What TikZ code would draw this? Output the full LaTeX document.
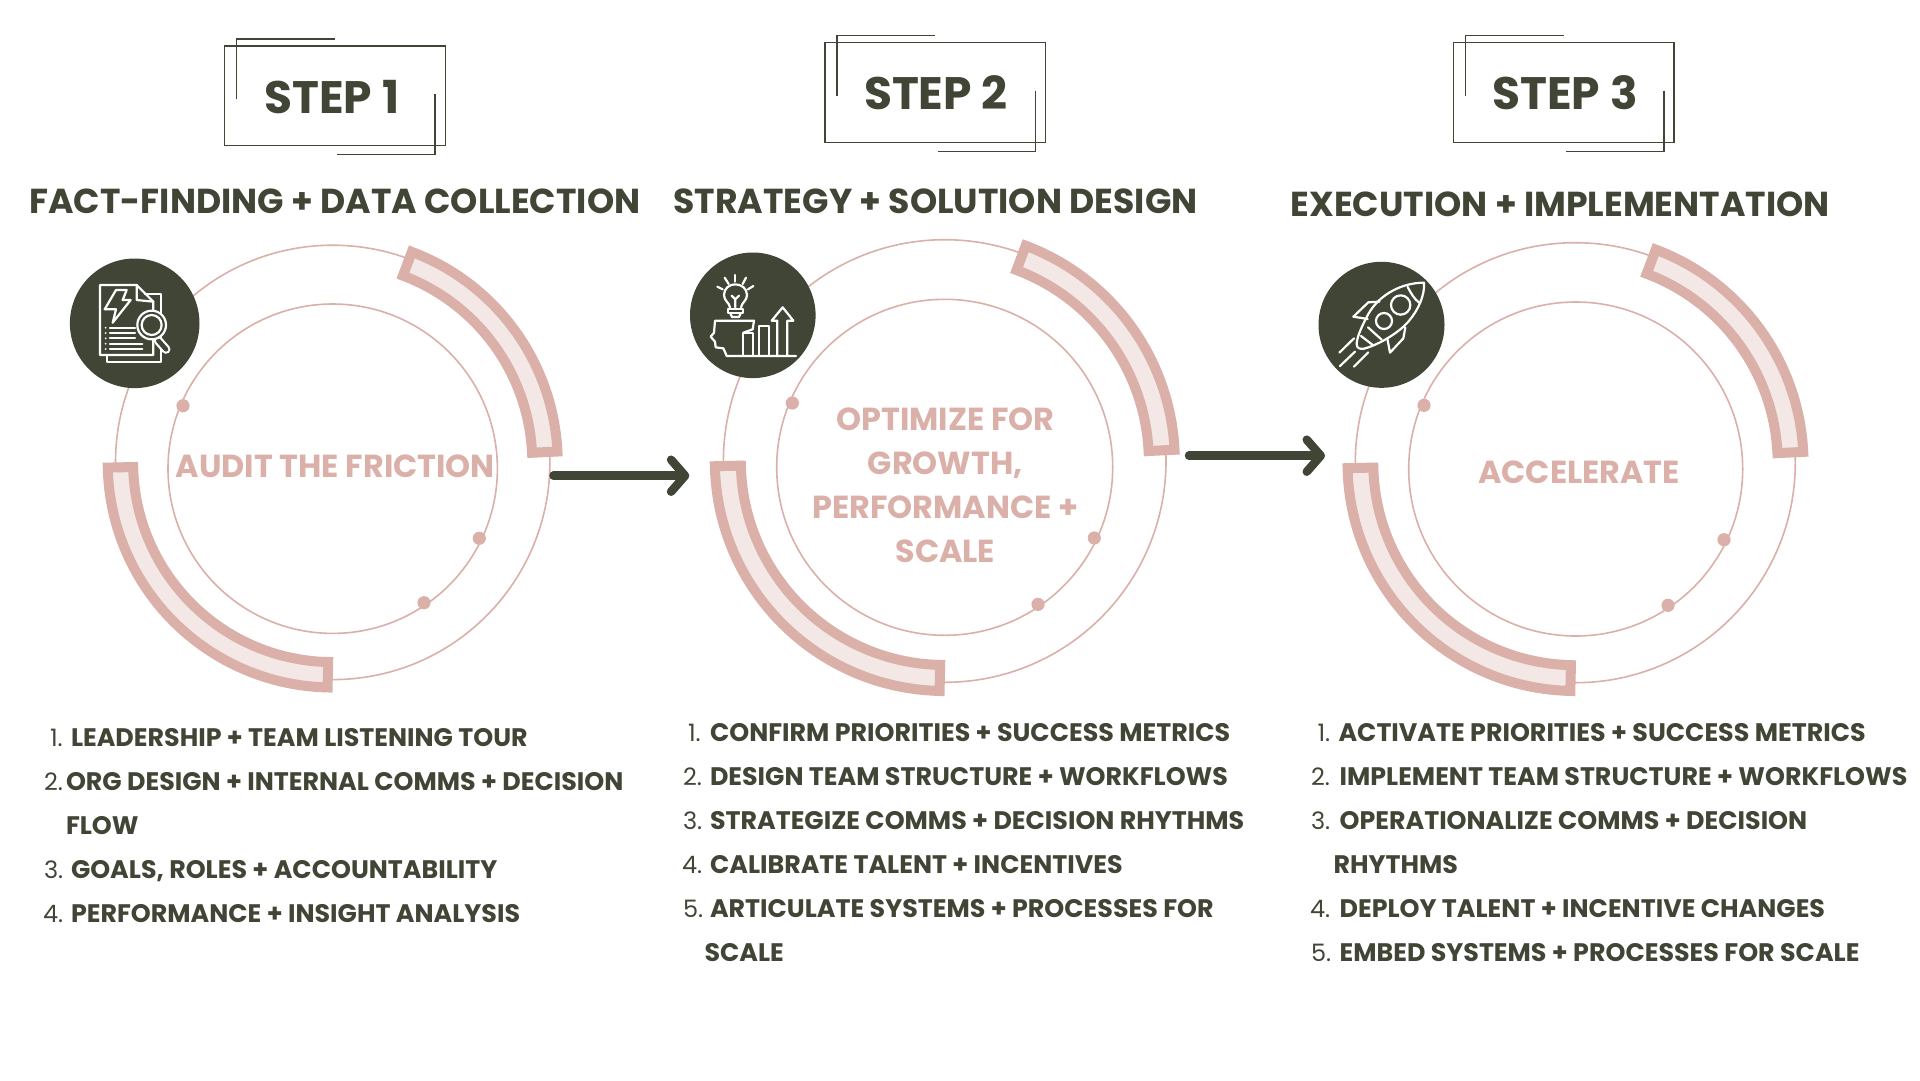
\documentclass[tikz,border=0pt]{standalone}
\usepackage{fontspec}
\usetikzlibrary{arrows.meta}
\setmainfont{Poppins}
\definecolor{darkol}{HTML}{404535}
\definecolor{rose}{HTML}{DAB0A9}
\definecolor{roselt}{HTML}{F3E8E6}
\tikzset{
  ringline/.style={draw=rose,line width=1.6pt},
  bandst/.style={draw=rose,fill=roselt,line width=10pt,miter limit=10,line join=miter},
  dotst/.style={fill=rose,draw=none},
  iconbg/.style={fill=darkol,draw=none},
  iconln/.style={draw=white,line width=2.2pt,line join=round,line cap=round},
  boxln/.style={draw=darkol,line width=1.4pt},
  flowarrow/.style={draw=darkol,line width=8.5pt,line cap=round,-{Straight Barb[length=14pt,width=32pt,round]}},
  txt/.style={inner sep=0pt,outer sep=0pt,anchor=base west,text=darkol},
  ctxt/.style={inner sep=0pt,outer sep=0pt,anchor=base,text=darkol},
  steptxt/.style={ctxt,font=\bfseries\fontsize{45.5}{46}\selectfont},
  headtxt/.style={txt,font=\bfseries\fontsize{34.65}{35}\selectfont},
  numtxt/.style={txt,font=\fontsize{24}{24}\selectfont},
  itemtxt/.style={txt,font=\bfseries\fontsize{25.35}{26}\selectfont},
  midtxt/.style={ctxt,text=rose,font=\bfseries\fontsize{31.85}{33}\selectfont},
}
\newcommand{\dualbands}[4]{%
  \draw[bandst,shift={(#1,#2)}] (-2.8:#3) arc[start angle=-2.8,end angle=-69.4,radius=#3] -- (-69.4:#4) arc[start angle=-69.4,end angle=-2.8,radius=#4] -- cycle;
  \draw[bandst,shift={(#1,#2)}] (178.7:#3) arc[start angle=178.7,end angle=91.3,radius=#3] -- (91.3:#4) arc[start angle=91.3,end angle=178.7,radius=#4] -- cycle;
}
\newcommand{\stepframe}[2]{%
  \begin{scope}[shift={(#1,#2)}]
    \draw[boxln] (0,0) rectangle (220.6,99.7);
    \draw[boxln] (12,53.3) -- (12,-7) -- (110.3,-7);
    \draw[boxln] (210.3,48) -- (210.3,108.7) -- (112.6,108.7);
  \end{scope}
}
\begin{document}
\begin{tikzpicture}[x=1pt,y=1pt,yscale=-1]
\path[use as bounding box,fill=white] (0,0) rectangle (1920,1080);

% ---------- rings ----------
\draw[ringline] (332.7,462.4) circle[radius=217.2];
\draw[ringline] (332.7,468.7) circle[radius=164.7];
\dualbands{332.7}{462.5}{225}{199.6}
\draw[ringline] (944.7,461) circle[radius=221.3];
\draw[ringline] (944.7,467.3) circle[radius=168];
\dualbands{944.8}{461}{230}{204}
\draw[ringline] (1575.3,462.7) circle[radius=220];
\draw[ringline] (1575.7,469) circle[radius=167];
\dualbands{1575.5}{463}{228}{202.2}

% ---------- dots ----------
\foreach \px/\py in {183/405.7,479.3/538.3,424/602.7,792.3/403,1094.3/538,1038/604.3,1424/405.3,1724/539.7,1668/605.3}
  \fill[dotst] (\px,\py) circle[radius=6.6];

% ---------- icon 1 ----------
\fill[iconbg] (134.7,323.3) circle[radius=64.8];
\begin{scope}[shift={(40,220)},scale=1/3]
  \draw[iconln] (315,222) -- (362,222) -- (362,425) -- (202,425) -- (202,405);
  \draw[iconln] (180,195) -- (290,195) -- (340,245) -- (340,405) -- (180,405) -- cycle;
  \draw[iconln] (290,195) -- (290,240) -- (340,245);
  \draw[iconln] (228,210) -- (260,210) -- (248,240) -- (272,240) -- (218,308) -- (228,268) -- (194,268) -- cycle;
  \foreach \yy/\xe in {323/285,339/285,355/285,371/307,387/307}{
    \draw[iconln] (210,\yy) -- (\xe,\yy);
    \fill[white] (197,\yy) circle[radius=3];
  }
  \draw[draw=white,line width=9pt,line cap=round] (355,362) -- (378,388);
  \draw[draw=darkol,line width=4.6pt,line cap=round] (355,362) -- (378,388);
  \draw[iconln,fill=darkol] (335,315) circle[radius=43];
  \draw[iconln] (335,315) circle[radius=30];
\end{scope}

% ---------- icon 2 ----------
\fill[iconbg] (752.8,315.3) circle[radius=62.8];
\begin{scope}[shift={(670,230)},scale=1/3]
  \foreach \ax/\ay/\bx/\by in {142/170/158/178,164/143/176/162,196/135/196/155,228/143/218/162,250/168/234/178}
    \draw[iconln] (\ax,\ay) -- (\bx,\by);
  \draw[iconln] (180,232) .. controls (178,218) and (162,212) .. (162,195) .. controls (162,175) and (178,163) .. (196,163) .. controls (214,163) and (231,175) .. (231,195) .. controls (231,212) and (215,218) .. (213,232);
  \draw[iconln] (175,238) -- (218,238) -- (218,248) -- (175,248) -- cycle;
  \draw[iconln] (181,250) -- (186,261) -- (207,261) -- (212,250);
  \draw[iconln] (196,232) -- (196,208) (185,197) -- (196,208) -- (207,197);
  \draw[iconln] (220,378) -- (220,308) -- (248,308) -- (248,378);
  \draw[iconln] (268,378) -- (268,288) -- (298,288) -- (298,378);
  \draw[iconln] (322,378) -- (322,272) -- (305,272) -- (338,232) -- (370,272) -- (352,272) -- (352,378);
  \draw[iconln] (378,378) -- (170,378) -- (165,366) -- (160,355) -- (137,352) -- (135,335) -- (122,320) -- (132,308) -- (135,272) -- (252,272) -- (248,298) -- (220,308);
\end{scope}

% ---------- icon 3 ----------
\fill[iconbg] (1381.5,324.8) circle[radius=63];
\begin{scope}[shift={(1300,240)},scale=1/3]
  \draw[iconln] (372,128) .. controls (310,128) and (240,160) .. (205,222) .. controls (190,250) and (170,290) .. (170,312) .. controls (170,325) and (180,328) .. (192,326) .. controls (225,318) and (290,285) .. (325,245) .. controls (355,210) and (375,165) .. (372,128) -- cycle;
  \draw[iconln] (323,141) .. controls (333,160) and (343,178) .. (358,188);
  \draw[iconln] (302,195) circle[radius=29];
  \draw[iconln] (252,243) circle[radius=24];
  \draw[iconln] (204,262) -- (245,299);
  \draw[iconln] (183,288) -- (217,314);
  \draw[iconln] (238,185) -- (205,187) -- (160,230) -- (203,237);
  \draw[iconln] (316,262) -- (310,295) -- (270,338) -- (262,296);
  \draw[iconln] (162,295) -- (118,338);
  \draw[iconln] (165,335) -- (120,378);
  \draw[iconln] (205,337) -- (162,380);
\end{scope}

% ---------- step frames ----------
\stepframe{224.7}{46}
\stepframe{825}{42.6}
\stepframe{1453.5}{42.6}
\node[steptxt] (st1) at (331.8,113) {STEP 1};
\node[steptxt] (st2) at (935.8,109.5) {STEP 2};
\node[steptxt] (st3) at (1565,109.5) {STEP 3};

% ---------- headings ----------
\node[headtxt] (h1) at (29.4,213) {FACT-FINDING + DATA COLLECTION};
\node[headtxt] (h2) at (673.5,213) {STRATEGY + SOLUTION DESIGN};
\node[headtxt] (h3) at (1290.6,216) {EXECUTION + IMPLEMENTATION};

% ---------- centre labels ----------
\node[midtxt] (m1) at (335.3,477.5) {AUDIT THE FRICTION};
\node[midtxt] (m2a) at (945.3,430) {OPTIMIZE FOR};
\node[midtxt] (m2b) at (945.3,474) {GROWTH,};
\node[midtxt] (m2c) at (945.3,518) {PERFORMANCE +};
\node[midtxt] (m2d) at (945.3,562) {SCALE};
\node[midtxt] (m3) at (1579,483) {ACCELERATE};

% ---------- arrows ----------
\coordinate (a1s) at (553.5,475.7);
\coordinate (a1e) at (689.3,475.7);
\coordinate (a2s) at (1189,455.7);
\coordinate (a2e) at (1325,455.7);
\draw[flowarrow] (a1s) -- (a1e);
\draw[flowarrow] (a2s) -- (a2e);

% ---------- list 1 ----------
\node[numtxt] (n11) at (50,746) {1.};
\node[itemtxt] (t11) at (71,746) {LEADERSHIP + TEAM LISTENING TOUR};
\node[numtxt] (n12) at (44,790) {2.};
\node[itemtxt] (t12) at (66,790) {ORG DESIGN + INTERNAL COMMS + DECISION};
\node[itemtxt] (t12b) at (66,834) {FLOW};
\node[numtxt] (n13) at (44,878) {3.};
\node[itemtxt] (t13) at (71,878) {GOALS, ROLES + ACCOUNTABILITY};
\node[numtxt] (n14) at (43,922) {4.};
\node[itemtxt] (t14) at (71,922) {PERFORMANCE + INSIGHT ANALYSIS};

% ---------- list 2 ----------
\node[numtxt] (n21) at (688,741) {1.};
\node[itemtxt] (t21) at (710,741) {CONFIRM PRIORITIES + SUCCESS METRICS};
\node[numtxt] (n22) at (683,785) {2.};
\node[itemtxt] (t22) at (710,785) {DESIGN TEAM STRUCTURE + WORKFLOWS};
\node[numtxt] (n23) at (683,829) {3.};
\node[itemtxt] (t23) at (710,829) {STRATEGIZE COMMS + DECISION RHYTHMS};
\node[numtxt] (n24) at (682,873) {4.};
\node[itemtxt] (t24) at (710,873) {CALIBRATE TALENT + INCENTIVES};
\node[numtxt] (n25) at (683,917) {5.};
\node[itemtxt] (t25) at (710,917) {ARTICULATE SYSTEMS + PROCESSES FOR};
\node[itemtxt] (t25b) at (704.5,961) {SCALE};

% ---------- list 3 ----------
\node[numtxt] (n31) at (1317.5,741) {1.};
\node[itemtxt] (t31) at (1338.5,741) {ACTIVATE PRIORITIES + SUCCESS METRICS};
\node[numtxt] (n32) at (1311,785) {2.};
\node[itemtxt] (t32) at (1339.6,785) {IMPLEMENT TEAM STRUCTURE + WORKFLOWS};
\node[numtxt] (n33) at (1311,829) {3.};
\node[itemtxt] (t33) at (1339.6,829) {OPERATIONALIZE COMMS + DECISION};
\node[itemtxt] (t33b) at (1333.5,873) {RHYTHMS};
\node[numtxt] (n34) at (1310,917) {4.};
\node[itemtxt] (t34) at (1339.6,917) {DEPLOY TALENT + INCENTIVE CHANGES};
\node[numtxt] (n35) at (1311,961) {5.};
\node[itemtxt] (t35) at (1339.6,961) {EMBED SYSTEMS + PROCESSES FOR SCALE};
\end{tikzpicture}
\end{document}
